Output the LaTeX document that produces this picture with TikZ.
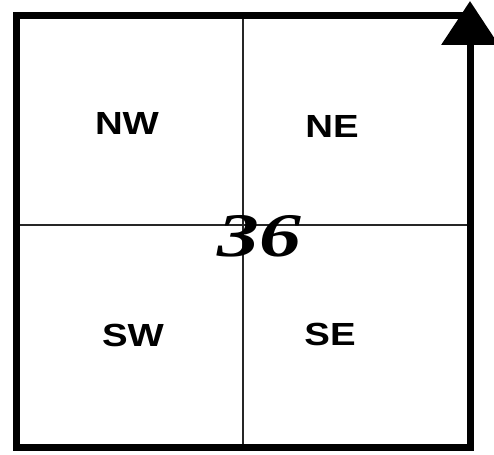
\documentclass[tikz,border=0pt]{standalone}
\usepackage{fontspec}
\setmainfont{Liberation Sans}
\newfontfamily\handfont{Liberation Serif}
\usepackage{tikz}
\usetikzlibrary{arrows.meta,positioning}
\tikzset{
  frame/.style={line width=7pt, draw=black, line join=miter},
  northarrow/.style={-{Triangle[length=44pt,width=56pt]}},
  gridline/.style={line width=1.2pt, draw=black!85},
  quadlabel/.style={font=\fontsize{32}{32}\selectfont\bfseries, inner sep=0pt, xscale=1.2},
  sheetnum/.style={font=\handfont\fontsize{62}{62}\selectfont\bfseries\itshape, inner sep=0pt, xscale=1.35}
}
\begin{document}
\begin{tikzpicture}[x=1pt, y=-1pt]
\useasboundingbox (0,0) rectangle (494,454);
\coordinate (nwc) at (16,15.5);
\coordinate (nec) at (470,15.5);
\coordinate (swc) at (16,447);
\coordinate (sec) at (470,447);
\coordinate (apex) at (470,1);
\coordinate (midn) at (243,15.5);
\coordinate (mids) at (243,447);
\coordinate (midw) at (16,225);
\coordinate (mide) at (470,225);
% quarter lines
\draw[gridline] (midn) -- (mids);
\draw[gridline] (midw) -- (mide);
% sheet frame with north arrow
\draw[frame, northarrow] (nec) -- (nwc) -- (swc) -- (sec) -- (apex);
\node[quadlabel] (nw) at (127,123) {NW};
\node[quadlabel] (ne) at (332,126) {NE};
\node[quadlabel] (sw) at (133,335) {SW};
\node[quadlabel] (se) at (330,334) {SE};
\node[sheetnum] (num) at (259,236) {36};
\end{tikzpicture}
\end{document}
